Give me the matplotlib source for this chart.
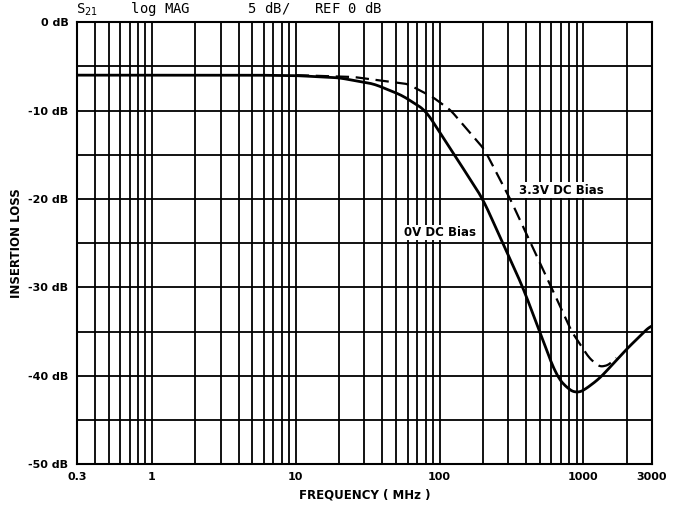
import matplotlib.pyplot as plt
import numpy as np

# readings (MHz, dB)
freq_0v = [0.3, 1, 5, 10, 20, 35, 55, 80, 120, 200, 380, 650, 780, 900, 1000, 1300, 2000, 3000]
loss_0v = [-6.0, -6.0, -6.0, -6.05, -6.3, -7.0, -8.3, -10.0, -14.4, -20.0, -30.0, -40.0, -41.5, -42.0, -41.7, -40.3, -37.0, -34.2]
freq_33v = [10, 25, 60, 90, 120, 205, 310, 600, 830, 1100, 1300, 1500, 1700]
loss_33v = [-6.0, -6.2, -7.0, -8.5, -10.0, -14.4, -20.0, -30.0, -35.0, -38.0, -39.0, -38.8, -37.9]

xticks = [0.3, 1, 10, 100, 1000, 3000]
xticklabels = ['0.3', '1', '10', '100', '1000', '3000']
yticks = [0, -10, -20, -30, -40, -50]


def smooth(x, y):
    lx = np.log10(x)
    xs = np.linspace(lx[0], lx[-1], 400)
    ys = np.interp(xs, lx, y)
    k = np.ones(9) / 9
    ys = np.convolve(np.pad(ys, 4, mode='edge'), k, mode='valid')
    return 10**xs, ys


fig = plt.figure(figsize=(6.92, 5.14), dpi=100)
ax = fig.add_axes([0.111, 0.097, 0.831, 0.86])
ax.set_xscale('log')
ax.set_xlim(0.3, 3000)
ax.set_ylim(-50, 0)

# grid
for dec in [0.1, 1, 10, 100, 1000]:
    for m in range(1, 10):
        v = dec * m
        if 0.3 < v < 3000:
            ax.axvline(v, color='black', lw=1.3, zorder=1)
for v in range(-45, 0, 5):
    ax.axhline(v, color='black', lw=1.3, zorder=1)
for s in ax.spines.values():
    s.set_linewidth(1.5)

x, y = smooth(freq_0v, loss_0v)
ax.plot(x, y, color='black', lw=2, zorder=3)
x, y = smooth(freq_33v, loss_33v)
ax.plot(x, y, color='black', lw=1.6, ls=(0, (6, 3)), zorder=3)

ax.text(100, -23.8, '0V DC Bias', fontsize=8.5, fontweight='bold', ha='center', va='center',
        bbox=dict(facecolor='white', edgecolor='none', pad=1), zorder=4)
ax.text(700, -19.0, '3.3V DC Bias', fontsize=8.5, fontweight='bold', ha='center', va='center',
        bbox=dict(facecolor='white', edgecolor='none', pad=1), zorder=4)

ax.set_xticks(xticks)
ax.set_xticklabels(xticklabels, fontsize=8, fontweight='bold')
ax.xaxis.set_minor_locator(plt.NullLocator())
ax.set_yticks(yticks)
ax.set_yticklabels([f'{v} dB' for v in yticks], fontsize=8, fontweight='bold')
ax.tick_params(length=0, pad=6)
ax.set_xlabel('FREQUENCY ( MHz )', fontsize=8.5, fontweight='bold')
ax.set_ylabel('INSERTION LOSS', fontsize=8.5, fontweight='bold')

fig.text(0.11, 0.965, 'S$_{21}$    log MAG       5 dB/   REF 0 dB',
         fontsize=10, family='DejaVu Sans Mono', ha='left', va='bottom')

fig.savefig('out.png', dpi=100, facecolor='white')
